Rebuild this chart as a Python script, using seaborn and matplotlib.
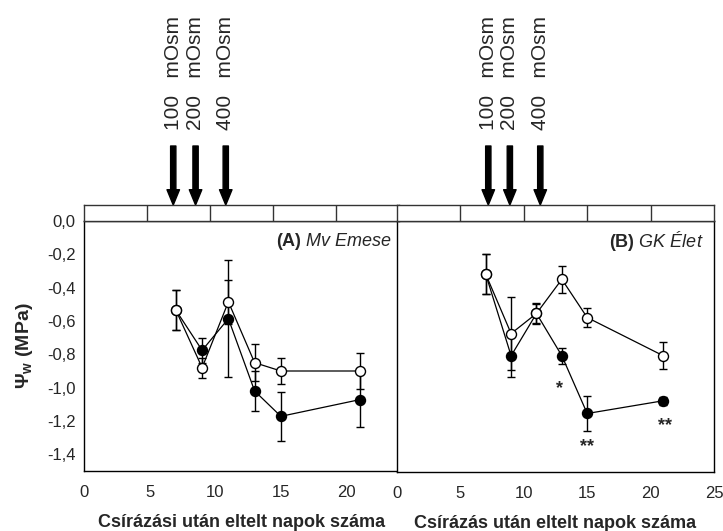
import numpy as np
import pandas as pd
import matplotlib
matplotlib.use("Agg")
import matplotlib.pyplot as plt
import matplotlib.transforms as mtransforms
from matplotlib.ticker import FuncFormatter
import seaborn as sns

# ---------------- data ----------------
days = [7, 9, 11, 13, 15, 21]

# (A) Mv Emese
a_open = [-0.535, -0.88, -0.485, -0.85, -0.90, -0.90]
a_open_err = [0.12, 0.06, 0.13, 0.11, 0.08, 0.106]
a_fill = [-0.535, -0.776, -0.586, -1.02, -1.172, -1.072]
a_fill_err = [0.12, 0.076, 0.35, 0.12, 0.145, 0.165]

# (B) GK Élet
b_open = [-0.276, -0.583, -0.479, -0.302, -0.50, -0.698]
b_open_err = [0.104, 0.19, 0.055, 0.07, 0.05, 0.07]
b_fill = [-0.276, -0.698, -0.479, -0.698, -0.997, -0.931]
b_fill_err = [0.104, 0.11, 0.05, 0.042, 0.093, 0.02]

# significance marks (panel B)
star_x = [12.8, 15.0, 21.1]
star_y = [-0.87, -1.17, -1.06]
star_txt = ["*", "**", "**"]

# osmotic stress arrows
arrow_labels = ["100   mOsm", "200   mOsm", "400   mOsm"]
a_arrow_x = [6.8, 8.5, 10.8]
b_arrow_x = [7.2, 8.9, 11.3]

a_yticks = [0.0, -0.2, -0.4, -0.6, -0.8, -1.0, -1.2, -1.4]
b_yticks = [-0.2, -0.4, -0.6, -0.8, -1.0, -1.2]
a_xticks = [0, 5, 10, 15, 20]
b_xticks = [0, 5, 10, 15, 20, 25]

# ---------------- style ----------------
sns.set_theme(style="white")
plt.rcParams["font.family"] = ["Liberation Sans", "DejaVu Sans"]
plt.rcParams["mathtext.fontset"] = "custom"
plt.rcParams["mathtext.rm"] = "Liberation Sans"
plt.rcParams["mathtext.it"] = "Liberation Sans:italic"
plt.rcParams["mathtext.bf"] = "Liberation Sans:bold"

fig = plt.figure(figsize=(7.23, 5.31), dpi=100)
W, H = 723.0, 531.0

def fa(x0, x1, y0, y1):
    return [x0 / W, 1 - y1 / H, (x1 - x0) / W, (y1 - y0) / H]

axA = fig.add_axes(fa(84, 399, 221, 471))
axB = fig.add_axes(fa(397, 714, 221, 472))
stA = fig.add_axes(fa(84, 399, 205, 221))
stB = fig.add_axes(fa(397, 714, 205, 221))

comma = FuncFormatter(lambda v, p: f"{v:.1f}".replace(".", ","))

def draw_series(ax, x, y, err, face):
    df = pd.DataFrame({"x": x, "y": y})
    ax.errorbar(x, y, yerr=err, fmt="none", ecolor="black", elinewidth=1.0,
                capsize=2.8, capthick=1.0, zorder=2)
    sns.lineplot(data=df, x="x", y="y", ax=ax, color="black", lw=0.9,
                 marker="o", markersize=7.2, markerfacecolor=face,
                 markeredgecolor="black", markeredgewidth=1.0, zorder=3)

for ax in (axA, axB):
    for s in ax.spines.values():
        s.set_visible(True)
        s.set_color("black")
        s.set_linewidth(1.0)

# Panel A
draw_series(axA, days, a_fill, a_fill_err, "black")
draw_series(axA, days, a_open, a_open_err, "white")
axA.set_xlim(0, 24)
axA.set_ylim(-1.5, 0)
axA.set_xticks(a_xticks)
axA.set_yticks(a_yticks)
axA.yaxis.set_major_formatter(comma)
axA.tick_params(axis="x", direction="in", length=5, width=1, color="black",
                labelsize=12, pad=10)
axA.tick_params(axis="y", direction="in", length=5, width=1, color="black",
                labelsize=12, pad=6)
axA.set_xlabel("Csírázási után eltelt napok száma", fontsize=13,
               fontweight="bold", labelpad=10)
axA.set_ylabel("Ψ$_{\\mathbf{w}}$ (MPa)", fontsize=14, fontweight="bold",
               labelpad=9)
axA.text(0.978, 0.92, "$\\mathbf{(A)}$ $\\mathit{Mv\\ Emese}$",
         transform=axA.transAxes, ha="right", va="center", fontsize=13)

# Panel B
draw_series(axB, days, b_fill, b_fill_err, "black")
draw_series(axB, days, b_open, b_open_err, "white")
axB.set_xlim(0, 25)
axB.set_ylim(-1.3, 0)
axB.set_xticks(b_xticks)
axB.set_yticks(b_yticks)
axB.tick_params(axis="x", direction="in", length=5, width=1, color="black",
                labelsize=12, pad=10)
axB.tick_params(axis="y", direction="out", length=5, width=1, color="black",
                labelleft=False)
axB.set_xlabel("Csírázás után eltelt napok száma", fontsize=13,
               fontweight="bold", labelpad=10)
axB.set_ylabel("")
axB.text(0.968, 0.92, "$\\mathbf{(B)}$ $\\mathit{GK\\ Élet}$",
         transform=axB.transAxes, ha="right", va="center", fontsize=13)
for sx, sy, st in zip(star_x, star_y, star_txt):
    axB.text(sx, sy, st, ha="center", va="center", fontsize=13,
             fontweight="bold")

# Top strips
for st in (stA, stB):
    st.set_xlim(0, 5)
    st.set_ylim(0, 1)
    st.set_xticks([])
    st.set_yticks([])
    for s in st.spines.values():
        s.set_visible(True)
        s.set_color("#333333")
        s.set_linewidth(1.0)
    for k in range(1, 5):
        st.axvline(k, color="#333333", lw=1.0)

# Arrows with labels
y_tip = 1 - 205 / H
y_tail = 1 - 146 / H
y_text = 1 - 130 / H
for ax, xs in ((axA, a_arrow_x), (axB, b_arrow_x)):
    tr = mtransforms.blended_transform_factory(ax.transData, fig.transFigure)
    for x, lab in zip(xs, arrow_labels):
        ax.annotate("", xy=(x, y_tip), xycoords=tr, xytext=(x, y_tail),
                    textcoords=tr, annotation_clip=False,
                    arrowprops=dict(width=3.8, headwidth=9, headlength=11,
                                    facecolor="black", edgecolor="black",
                                    shrink=0))
        ax.text(x, y_text, lab, transform=tr, rotation=90, ha="center",
                va="bottom", fontsize=15, clip_on=False)

fig.savefig("out.png", dpi=100)
